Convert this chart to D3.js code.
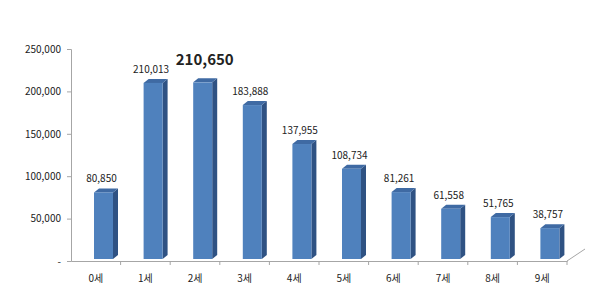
<!DOCTYPE html>
<html>
<head>
<meta charset="utf-8">
<script src="https://cdn.jsdelivr.net/npm/d3@7"></script>
<style>
  body { margin: 0; background: #fff; }
  text { font-family: "Noto Sans CJK KR", "DejaVu Sans", sans-serif; fill: #222; }
</style>
</head>
<body>
<svg width="610" height="300"></svg>
<script>
var ages = ['0세', '1세', '2세', '3세', '4세', '5세', '6세', '7세', '8세', '9세'];
var counts = [80850, 210013, 210650, 183888, 137955, 108734, 81261, 61558, 51765, 38757];
var yTicks = [0, 50000, 100000, 150000, 200000, 250000];
var highlight = '2세';

var svg = d3.select('svg');
var padding = { t: 49, r: 43, b: 39, l: 71 };
var width = 610, height = 300;
var depth = 5, rise = 4;

var xScale = d3.scaleBand().domain(ages).range([padding.l, width - padding.r]);
var yScale = d3.scaleLinear().domain([0, 250000]).range([height - padding.b, padding.t]);
var fmt = d3.format(',');

// y axis
var yAxis = d3.axisLeft(yScale).tickValues(yTicks).tickSize(4).tickPadding(6)
    .tickFormat(d => d === 0 ? '-' : fmt(d));
var gy = svg.append('g')
    .attr('transform', 'translate(' + padding.l + ',0)')
    .call(yAxis);
gy.select('.domain').attr('stroke', '#a6a6a6');
gy.selectAll('.tick line').attr('stroke', '#a6a6a6');
gy.selectAll('.tick text').style('font-size', '10px').attr('fill', '#222');

// x axis
var xAxis = d3.axisBottom(xScale).tickSize(0).tickPadding(14);
var gx = svg.append('g')
    .attr('transform', 'translate(0,' + (height - padding.b) + ')')
    .call(xAxis);
gx.select('.domain').attr('stroke', '#a6a6a6');
gx.selectAll('.tick text').style('font-size', '10px').attr('fill', '#222');

// band boundary ticks
gx.selectAll('.bound')
    .data(ages.slice(1).concat(['end']))
    .enter()
    .append('line')
    .attr('x1', d => d === 'end' ? xScale.range()[1] : xScale(d))
    .attr('x2', d => d === 'end' ? xScale.range()[1] : xScale(d))
    .attr('y1', 0)
    .attr('y2', 4)
    .attr('stroke', '#a6a6a6');

// floor edge
svg.append('line')
    .attr('x1', xScale.range()[1]).attr('y1', height - padding.b)
    .attr('x2', xScale.range()[1] + 18).attr('y2', height - padding.b - 12)
    .attr('stroke', '#a6a6a6');

var data = ages.map((a, i) => ({ age: a, value: counts[i] }));
var barW = 19, off = 23;
var base = height - padding.b - 2;

var bars = svg.selectAll('.bar').data(data).enter().append('g').attr('class', 'bar');

// side face
bars.append('path')
    .attr('d', d => {
        var x = xScale(d.age) + off + barW, y = yScale(d.value);
        return 'M' + x + ',' + y + 'L' + (x + depth) + ',' + (y - rise) +
            'L' + (x + depth) + ',' + (base - rise) + 'L' + x + ',' + base + 'Z';
    })
    .attr('fill', '#2f5283');

// top face
bars.append('path')
    .attr('d', d => {
        var x = xScale(d.age) + off, y = yScale(d.value);
        return 'M' + x + ',' + y + 'L' + (x + depth) + ',' + (y - rise) +
            'L' + (x + barW + depth) + ',' + (y - rise) + 'L' + (x + barW) + ',' + y + 'Z';
    })
    .attr('fill', '#3f6aa3');

// front face
bars.append('rect')
    .attr('x', d => xScale(d.age) + off)
    .attr('y', d => yScale(d.value))
    .attr('width', barW)
    .attr('height', d => base - yScale(d.value))
    .attr('fill', '#4f81bd');

// value labels
bars.append('text')
    .attr('x', d => xScale(d.age) + off + barW / 2 + (d.age === highlight ? 2 : -2))
    .attr('y', d => yScale(d.value) - (d.age === highlight ? 17 : 10))
    .attr('text-anchor', 'middle')
    .style('font-size', d => d.age === highlight ? '15px' : '10px')
    .style('font-weight', d => d.age === highlight ? 'bold' : 'normal')
    .text(d => fmt(d.value));
</script>
</body>
</html>
